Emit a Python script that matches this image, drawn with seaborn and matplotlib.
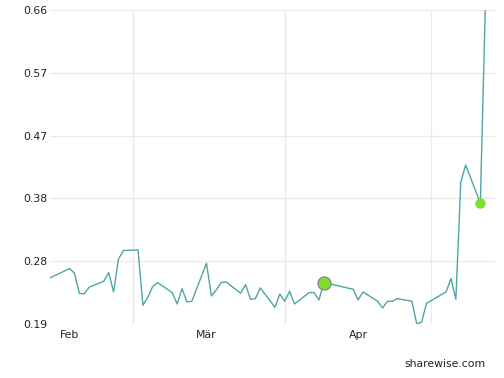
import matplotlib
matplotlib.use("Agg")
import matplotlib.pyplot as plt
import matplotlib.dates as mdates
import seaborn as sns
import pandas as pd

# ---- data ----
dates = [
    "2015-01-29", "2015-02-02", "2015-02-03", "2015-02-04", "2015-02-05", "2015-02-06",
    "2015-02-09", "2015-02-10", "2015-02-11", "2015-02-12", "2015-02-13",
    "2015-02-16", "2015-02-17", "2015-02-18", "2015-02-19", "2015-02-20",
    "2015-02-23", "2015-02-24", "2015-02-25", "2015-02-26", "2015-02-27",
    "2015-03-02", "2015-03-03", "2015-03-04", "2015-03-05", "2015-03-06",
    "2015-03-09", "2015-03-10", "2015-03-11", "2015-03-12", "2015-03-13",
    "2015-03-16", "2015-03-17", "2015-03-18", "2015-03-19", "2015-03-20",
    "2015-03-23", "2015-03-24", "2015-03-25", "2015-03-26",
    "2015-04-01", "2015-04-02", "2015-04-03",
    "2015-04-06", "2015-04-07", "2015-04-08", "2015-04-09", "2015-04-10",
    "2015-04-13", "2015-04-14", "2015-04-15", "2015-04-16",
    "2015-04-20", "2015-04-21", "2015-04-22", "2015-04-23", "2015-04-24",
    "2015-04-27", "2015-04-28",
]
prices = [
    0.259, 0.273, 0.266, 0.236, 0.235, 0.245,
    0.254, 0.267, 0.238, 0.287, 0.300,
    0.301, 0.218, 0.230, 0.246, 0.252,
    0.237, 0.220, 0.243, 0.223, 0.224,
    0.281, 0.232, 0.241, 0.252, 0.253,
    0.236, 0.249, 0.227, 0.228, 0.244,
    0.215, 0.235, 0.224, 0.239, 0.220,
    0.237, 0.237, 0.226, 0.252,
    0.242, 0.226, 0.238,
    0.224, 0.214, 0.224, 0.224, 0.228,
    0.224, 0.190, 0.193, 0.221,
    0.238, 0.258, 0.227, 0.402, 0.428,
    0.371, 0.660,
]
highlight_dates = ["2015-03-26", "2015-04-27"]
highlight_sizes = [88, 42]
highlight_edges = ["#8a8a8a", "#7fe02a"]

month_tick_dates = ["2015-02-02", "2015-03-02", "2015-04-02"]
month_labels = ["Feb", "Mär", "Apr"]
grid_dates = ["2015-02-15", "2015-03-18", "2015-04-17"]
y_ticks = [0.19, 0.284, 0.378, 0.472, 0.566, 0.66]
y_labels = ["0.19", "0.28", "0.38", "0.47", "0.57", "0.66"]
x_range = ["2015-01-29", "2015-04-30"]

df = pd.DataFrame({"date": pd.to_datetime(dates), "price": prices})

sns.set_style("white")
plt.rcParams["font.family"] = ["DejaVu Sans"]

fig = plt.figure(figsize=(5.04, 3.78), dpi=100)
ax = fig.add_axes([50 / 504, 1 - 324 / 378, 445 / 504, 314 / 378])

sns.lineplot(data=df, x="date", y="price", ax=ax, color="#4fa5a3", linewidth=1.0,
             zorder=3)

for d, s, ec in zip(highlight_dates, highlight_sizes, highlight_edges):
    sub = df[df["date"] == pd.Timestamp(d)]
    sns.scatterplot(data=sub, x="date", y="price", ax=ax, s=s, color="#7fe02a",
                    edgecolor=ec, linewidth=1.0, zorder=4, clip_on=False)

ax.set_xlim(pd.Timestamp(x_range[0]), pd.Timestamp(x_range[1]))
ax.set_ylim(y_ticks[0], y_ticks[-1])

ax.set_yticks(y_ticks)
ax.set_yticklabels(y_labels)
ax.set_xticks(pd.to_datetime(month_tick_dates))
ax.set_xticklabels(month_labels)
ax.set_xticks(pd.to_datetime(grid_dates), minor=True)

ax.grid(False)
ax.yaxis.grid(True, color="#ebebeb", linewidth=1.0)
ax.xaxis.grid(True, which="minor", color="#ebebeb", linewidth=1.0)
ax.set_axisbelow(True)

ax.tick_params(axis="y", length=0, pad=2, labelsize=7.8, labelcolor="#222222")
ax.tick_params(axis="x", which="major", length=0, pad=4, labelsize=7.8,
               labelcolor="#222222")
ax.tick_params(axis="x", which="minor", length=3, color="#ebebeb", width=1.0)

for sp in ax.spines.values():
    sp.set_visible(False)
ax.set_xlabel("")
ax.set_ylabel("")

fig.text(486 / 504, 1 - 364 / 378, "sharewise.com", ha="right", va="center",
         fontsize=7.8, color="#222222")

fig.savefig("out.png", dpi=100)
